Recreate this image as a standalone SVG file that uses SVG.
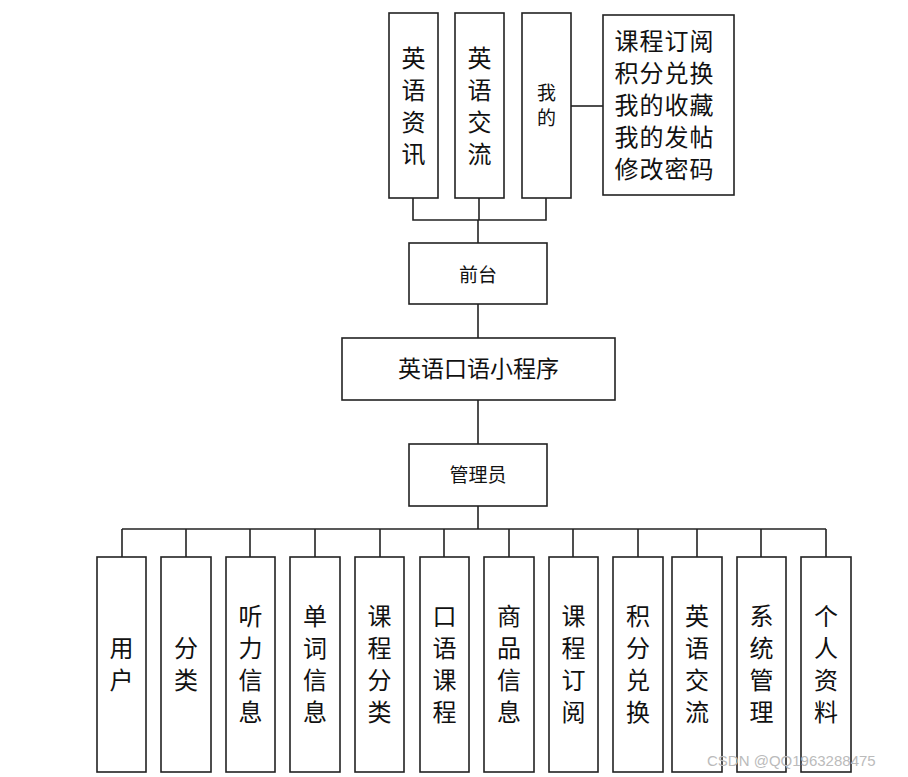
<svg xmlns="http://www.w3.org/2000/svg" width="908" height="777" viewBox="0 0 908 777">
<style>
rect{fill:#fff;stroke:#222;stroke-width:1.6}
.c line,.c polyline{stroke:#222;stroke-width:1.6;fill:none}
text{font-family:"Noto Sans CJK SC","Noto Sans",sans-serif;fill:#111;text-anchor:middle}
.b{font-size:24px}
.r{font-size:24px;letter-spacing:1px}
.s{font-size:19px}
.m{font-size:23px}
.w{font-size:15px;fill:#bbb;text-anchor:start;font-family:"Liberation Sans",Arial,sans-serif}
</style>
<rect x="0" y="0" width="908" height="777" style="fill:#fff;stroke:none"/>
<g class="c" id="connectors">
<line x1="571" y1="106" x2="603" y2="106"/>
<polyline points="413,198 413,220 546,220 546,198"/>
<line x1="479" y1="198" x2="479" y2="220"/>
<line x1="478" y1="220" x2="478" y2="243"/>
<line x1="478" y1="304" x2="478" y2="338"/>
<line x1="478" y1="400" x2="478" y2="444"/>
<line x1="478" y1="506" x2="478" y2="529"/>
<line x1="122" y1="529" x2="826" y2="529"/>
<line x1="122" y1="529" x2="122" y2="557"/>
<line x1="186" y1="529" x2="186" y2="557"/>
<line x1="250" y1="529" x2="250" y2="557"/>
<line x1="315" y1="529" x2="315" y2="557"/>
<line x1="380" y1="529" x2="380" y2="557"/>
<line x1="444" y1="529" x2="444" y2="557"/>
<line x1="509" y1="529" x2="509" y2="557"/>
<line x1="573" y1="529" x2="573" y2="557"/>
<line x1="638" y1="529" x2="638" y2="557"/>
<line x1="697" y1="529" x2="697" y2="557"/>
<line x1="761" y1="529" x2="761" y2="557"/>
<line x1="826" y1="529" x2="826" y2="557"/>
</g>
<g id="n_yyzx"><rect x="389" y="13" width="49" height="185"/>
<text class="b"><tspan x="413.5" y="67">英</tspan><tspan x="413.5" y="99">语</tspan><tspan x="413.5" y="131">资</tspan><tspan x="413.5" y="163">讯</tspan></text></g>
<g id="n_yyjl_top"><rect x="455" y="13" width="49" height="185"/>
<text class="b"><tspan x="479.5" y="67">英</tspan><tspan x="479.5" y="99">语</tspan><tspan x="479.5" y="131">交</tspan><tspan x="479.5" y="163">流</tspan></text></g>
<g id="n_wode"><rect x="522" y="13" width="49" height="185"/>
<text class="s"><tspan x="546.5" y="100">我</tspan><tspan x="546.5" y="125">的</tspan></text></g>
<g id="n_wode_list"><rect x="603" y="15" width="131" height="180"/>
<text class="r" x="664.5" y="50">课程订阅</text>
<text class="r" x="664.5" y="82">积分兑换</text>
<text class="r" x="664.5" y="114">我的收藏</text>
<text class="r" x="664.5" y="146">我的发帖</text>
<text class="r" x="664.5" y="178">修改密码</text></g>
<g id="n_qiantai"><rect x="409" y="243" width="138" height="61"/>
<text class="s" x="478" y="282">前台</text></g>
<g id="n_app"><rect x="342" y="338" width="273" height="62"/>
<text class="m" x="478.5" y="377">英语口语小程序</text></g>
<g id="n_admin"><rect x="409" y="444" width="138" height="62"/>
<text class="s" x="478" y="482">管理员</text></g>
<g id="n_yonghu"><rect x="97" y="557" width="49" height="215"/>
<text class="b"><tspan x="121.5" y="657">用</tspan><tspan x="121.5" y="689">户</tspan></text></g>
<g id="n_fenlei"><rect x="161" y="557" width="50" height="215"/>
<text class="b"><tspan x="186" y="657">分</tspan><tspan x="186" y="689">类</tspan></text></g>
<g id="n_tingli"><rect x="226" y="557" width="49" height="215"/>
<text class="b"><tspan x="250.5" y="625">听</tspan><tspan x="250.5" y="657">力</tspan><tspan x="250.5" y="689">信</tspan><tspan x="250.5" y="721">息</tspan></text></g>
<g id="n_danci"><rect x="290" y="557" width="50" height="215"/>
<text class="b"><tspan x="315" y="625">单</tspan><tspan x="315" y="657">词</tspan><tspan x="315" y="689">信</tspan><tspan x="315" y="721">息</tspan></text></g>
<g id="n_kcfl"><rect x="355" y="557" width="49" height="215"/>
<text class="b"><tspan x="379.5" y="625">课</tspan><tspan x="379.5" y="657">程</tspan><tspan x="379.5" y="689">分</tspan><tspan x="379.5" y="721">类</tspan></text></g>
<g id="n_kykc"><rect x="420" y="557" width="49" height="215"/>
<text class="b"><tspan x="444.5" y="625">口</tspan><tspan x="444.5" y="657">语</tspan><tspan x="444.5" y="689">课</tspan><tspan x="444.5" y="721">程</tspan></text></g>
<g id="n_spxx"><rect x="484" y="557" width="50" height="215"/>
<text class="b"><tspan x="509" y="625">商</tspan><tspan x="509" y="657">品</tspan><tspan x="509" y="689">信</tspan><tspan x="509" y="721">息</tspan></text></g>
<g id="n_kcdy"><rect x="549" y="557" width="49" height="215"/>
<text class="b"><tspan x="573.5" y="625">课</tspan><tspan x="573.5" y="657">程</tspan><tspan x="573.5" y="689">订</tspan><tspan x="573.5" y="721">阅</tspan></text></g>
<g id="n_jfdh"><rect x="613" y="557" width="50" height="215"/>
<text class="b"><tspan x="638" y="625">积</tspan><tspan x="638" y="657">分</tspan><tspan x="638" y="689">兑</tspan><tspan x="638" y="721">换</tspan></text></g>
<g id="n_yyjl"><rect x="672" y="557" width="50" height="215"/>
<text class="b"><tspan x="697" y="625">英</tspan><tspan x="697" y="657">语</tspan><tspan x="697" y="689">交</tspan><tspan x="697" y="721">流</tspan></text></g>
<g id="n_xtgl"><rect x="737" y="557" width="49" height="215"/>
<text class="b"><tspan x="761.5" y="625">系</tspan><tspan x="761.5" y="657">统</tspan><tspan x="761.5" y="689">管</tspan><tspan x="761.5" y="721">理</tspan></text></g>
<g id="n_grzl"><rect x="801" y="557" width="50" height="215"/>
<text class="b"><tspan x="826" y="625">个</tspan><tspan x="826" y="657">人</tspan><tspan x="826" y="689">资</tspan><tspan x="826" y="721">料</tspan></text></g>
<text class="w" x="707" y="766">CSDN @QQ1963288475</text>
</svg>
